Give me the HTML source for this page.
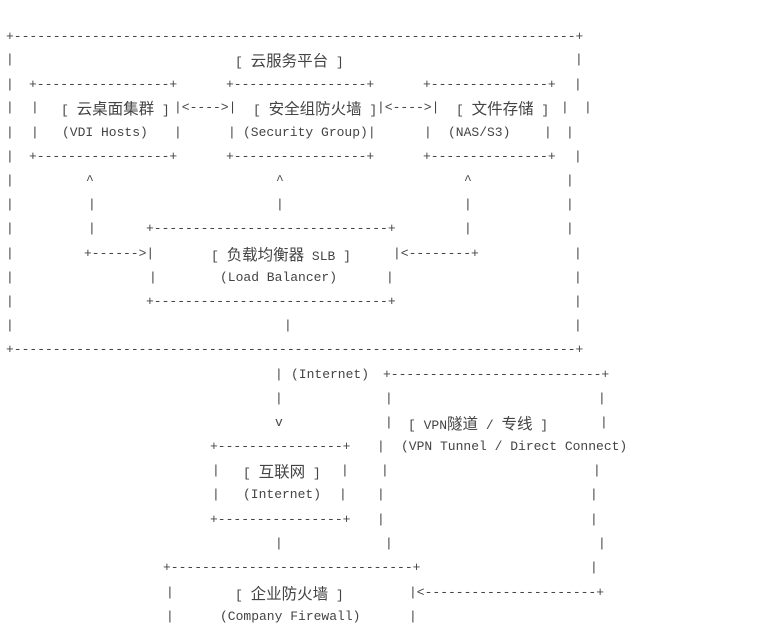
<!DOCTYPE html>
<html><head><meta charset="utf-8"><style>
html,body{margin:0;padding:0;background:#fff;}
body{width:772px;height:630px;position:relative;overflow:hidden;}
.t{position:absolute;white-space:pre;font-family:"Liberation Mono","Noto Sans CJK SC",monospace;font-size:13px;line-height:18px;color:#444;}
.c{font-family:"Noto Sans CJK SC","WenQuanYi Zen Hei",sans-serif;font-size:15.5px;}
</style></head><body>
<div class="t" style="left:6px;top:28px">+------------------------------------------------------------------------+</div>
<div class="t" style="left:6px;top:51px">|</div>
<div class="t" style="left:235px;top:51px">[ <span class="c">云服务平台</span> ]</div>
<div class="t" style="left:575px;top:51px">|</div>
<div class="t" style="left:6px;top:76px">|</div>
<div class="t" style="left:29px;top:76px">+-----------------+</div>
<div class="t" style="left:226px;top:76px">+-----------------+</div>
<div class="t" style="left:423px;top:76px">+---------------+</div>
<div class="t" style="left:574px;top:76px">|</div>
<div class="t" style="left:6px;top:99px">|</div>
<div class="t" style="left:31px;top:99px">|</div>
<div class="t" style="left:61px;top:99px">[ <span class="c">云桌面集群</span> ]</div>
<div class="t" style="left:174px;top:99px">|&lt;----&gt;|</div>
<div class="t" style="left:253px;top:99px">[ <span class="c">安全组防火墙</span> ]</div>
<div class="t" style="left:377px;top:99px">|&lt;----&gt;|</div>
<div class="t" style="left:456px;top:99px">[ <span class="c">文件存储</span> ]</div>
<div class="t" style="left:561px;top:99px">|</div>
<div class="t" style="left:584px;top:99px">|</div>
<div class="t" style="left:6px;top:124px">|</div>
<div class="t" style="left:31px;top:124px">|</div>
<div class="t" style="left:62px;top:124px">(VDI Hosts)</div>
<div class="t" style="left:174px;top:124px">|</div>
<div class="t" style="left:228px;top:124px">|</div>
<div class="t" style="left:243px;top:124px">(Security Group)|</div>
<div class="t" style="left:424px;top:124px">|</div>
<div class="t" style="left:448px;top:124px">(NAS/S3)</div>
<div class="t" style="left:544px;top:124px">|</div>
<div class="t" style="left:566px;top:124px">|</div>
<div class="t" style="left:6px;top:148px">|</div>
<div class="t" style="left:29px;top:148px">+-----------------+</div>
<div class="t" style="left:226px;top:148px">+-----------------+</div>
<div class="t" style="left:423px;top:148px">+---------------+</div>
<div class="t" style="left:574px;top:148px">|</div>
<div class="t" style="left:6px;top:172px">|</div>
<div class="t" style="left:86px;top:172px">^</div>
<div class="t" style="left:276px;top:172px">^</div>
<div class="t" style="left:464px;top:172px">^</div>
<div class="t" style="left:566px;top:172px">|</div>
<div class="t" style="left:6px;top:196px">|</div>
<div class="t" style="left:88px;top:196px">|</div>
<div class="t" style="left:276px;top:196px">|</div>
<div class="t" style="left:464px;top:196px">|</div>
<div class="t" style="left:566px;top:196px">|</div>
<div class="t" style="left:6px;top:220px">|</div>
<div class="t" style="left:88px;top:220px">|</div>
<div class="t" style="left:146px;top:220px">+------------------------------+</div>
<div class="t" style="left:464px;top:220px">|</div>
<div class="t" style="left:566px;top:220px">|</div>
<div class="t" style="left:6px;top:245px">|</div>
<div class="t" style="left:84px;top:245px">+------&gt;|</div>
<div class="t" style="left:211px;top:245px">[ <span class="c">负载均衡器</span> SLB ]</div>
<div class="t" style="left:393px;top:245px">|&lt;--------+</div>
<div class="t" style="left:574px;top:245px">|</div>
<div class="t" style="left:6px;top:269px">|</div>
<div class="t" style="left:149px;top:269px">|</div>
<div class="t" style="left:220px;top:269px">(Load Balancer)</div>
<div class="t" style="left:386px;top:269px">|</div>
<div class="t" style="left:574px;top:269px">|</div>
<div class="t" style="left:6px;top:293px">|</div>
<div class="t" style="left:146px;top:293px">+------------------------------+</div>
<div class="t" style="left:574px;top:293px">|</div>
<div class="t" style="left:6px;top:317px">|</div>
<div class="t" style="left:284px;top:317px">|</div>
<div class="t" style="left:574px;top:317px">|</div>
<div class="t" style="left:6px;top:341px">+------------------------------------------------------------------------+</div>
<div class="t" style="left:275px;top:366px">|</div>
<div class="t" style="left:291px;top:366px">(Internet)</div>
<div class="t" style="left:383px;top:366px">+---------------------------+</div>
<div class="t" style="left:275px;top:390px">|</div>
<div class="t" style="left:385px;top:390px">|</div>
<div class="t" style="left:598px;top:390px">|</div>
<div class="t" style="left:275px;top:414px">v</div>
<div class="t" style="left:385px;top:414px">|</div>
<div class="t" style="left:408px;top:414px">[ VPN<span class="c">隧道</span> / <span class="c">专线</span> ]</div>
<div class="t" style="left:600px;top:414px">|</div>
<div class="t" style="left:210px;top:438px">+----------------+</div>
<div class="t" style="left:377px;top:438px">|</div>
<div class="t" style="left:401px;top:438px">(VPN Tunnel / Direct Connect)</div>
<div class="t" style="left:212px;top:462px">|</div>
<div class="t" style="left:243px;top:462px">[ <span class="c">互联网</span> ]</div>
<div class="t" style="left:341px;top:462px">|</div>
<div class="t" style="left:381px;top:462px">|</div>
<div class="t" style="left:593px;top:462px">|</div>
<div class="t" style="left:212px;top:486px">|</div>
<div class="t" style="left:243px;top:486px">(Internet)</div>
<div class="t" style="left:339px;top:486px">|</div>
<div class="t" style="left:377px;top:486px">|</div>
<div class="t" style="left:590px;top:486px">|</div>
<div class="t" style="left:210px;top:511px">+----------------+</div>
<div class="t" style="left:377px;top:511px">|</div>
<div class="t" style="left:590px;top:511px">|</div>
<div class="t" style="left:275px;top:535px">|</div>
<div class="t" style="left:385px;top:535px">|</div>
<div class="t" style="left:598px;top:535px">|</div>
<div class="t" style="left:163px;top:559px">+-------------------------------+</div>
<div class="t" style="left:590px;top:559px">|</div>
<div class="t" style="left:166px;top:584px">|</div>
<div class="t" style="left:235px;top:584px">[ <span class="c">企业防火墙</span> ]</div>
<div class="t" style="left:409px;top:584px">|&lt;----------------------+</div>
<div class="t" style="left:166px;top:608px">|</div>
<div class="t" style="left:220px;top:608px">(Company Firewall)</div>
<div class="t" style="left:409px;top:608px">|</div>
</body></html>
